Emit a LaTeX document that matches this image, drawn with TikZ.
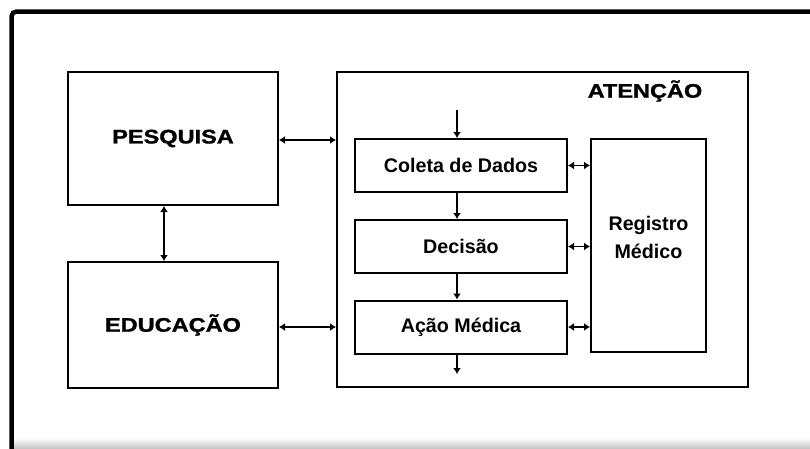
\documentclass[tikz,border=0pt]{standalone}
\usepackage{fontspec}
\usepackage{graphicx}
\setmainfont{Liberation Sans}
\newfontfamily\heavyfont{Liberation Sans}[BoldFeatures={FakeBold=1.2}]
\usetikzlibrary{arrows.meta}
\newcommand{\bigtxt}[1]{\scalebox{1.2}[1]{\fontsize{19.6pt}{22pt}\heavyfont\bfseries #1}}
\tikzset{
  bigbox/.style={draw=black, line width=2pt, minimum width=210pt, inner sep=0pt},
  smallbox/.style={draw=black, line width=2pt, minimum width=212pt, minimum height=53pt, inner sep=0pt,
    font=\fontsize{19.7pt}{22pt}\selectfont\bfseries},
  conn/.style={line width=1.4pt, {Latex[length=6pt,width=8pt]}-{Latex[length=6pt,width=8pt]}},
  oneway/.style={line width=1.4pt, -{Latex[length=6pt,width=8pt]}},
}
\begin{document}
\begin{tikzpicture}[x=1pt,y=-1pt]
\useasboundingbox (0,0) rectangle (810,448);
% outer frame
\shade[top color=white, bottom color=black!22] (14,438) rectangle (810,448);
\draw[line width=4.5pt, rounded corners=5pt] (11.5,450) -- (11.5,11.5) -- (812,11.5);
% left column
\node[bigbox, minimum height=133pt] (pesq) at (173,138.5) {\bigtxt{PESQUISA}};
\node[bigbox, minimum height=126pt] (edu) at (173,325) {\bigtxt{EDUCAÇÃO}};
% attention box
\node[draw=black, line width=2pt, minimum width=411pt, minimum height=315pt, inner sep=0pt] (aten) at (542.5,229.5) {};
\node[inner sep=0pt] (atenlbl) at (645,91) {\bigtxt{ATENÇÃO}};
% inner boxes
\node[smallbox] (col) at (461,165.5) {Coleta de Dados};
\node[smallbox] (dec) at (461,246.5) {Decisão};
\node[smallbox] (acao) at (461,327) {Ação Médica};
\node[draw=black, line width=2pt, minimum width=115pt, minimum height=213pt, inner sep=0pt] (reg) at (648.5,245.5) {};
\node[align=center, font=\fontsize{19.7pt}{28pt}\selectfont\bfseries, inner sep=0pt] (reglbl) at (648.5,237) {Registro\\Médico};
% free ends
\coordinate (inpt) at (457,110);
\coordinate (outpt) at (457,374);
% connectors
\draw[conn] (pesq.east |- 0,140) -- (aten.west |- 0,140);
\draw[conn] (edu.east |- 0,327) -- (aten.west |- 0,327);
\draw[conn] (pesq.south -| 164,0) -- (edu.north -| 164,0);
\draw[oneway] (inpt) -- (col.north -| inpt);
\draw[oneway] (col.south -| inpt) -- (dec.north -| inpt);
\draw[oneway] (dec.south -| inpt) -- (acao.north -| inpt);
\draw[oneway] (acao.south -| inpt) -- (outpt);
\draw[conn] (col.east) -- (col.east -| reg.west);
\draw[conn] (dec.east) -- (dec.east -| reg.west);
\draw[conn] (acao.east) -- (acao.east -| reg.west);
\end{tikzpicture}
\end{document}
